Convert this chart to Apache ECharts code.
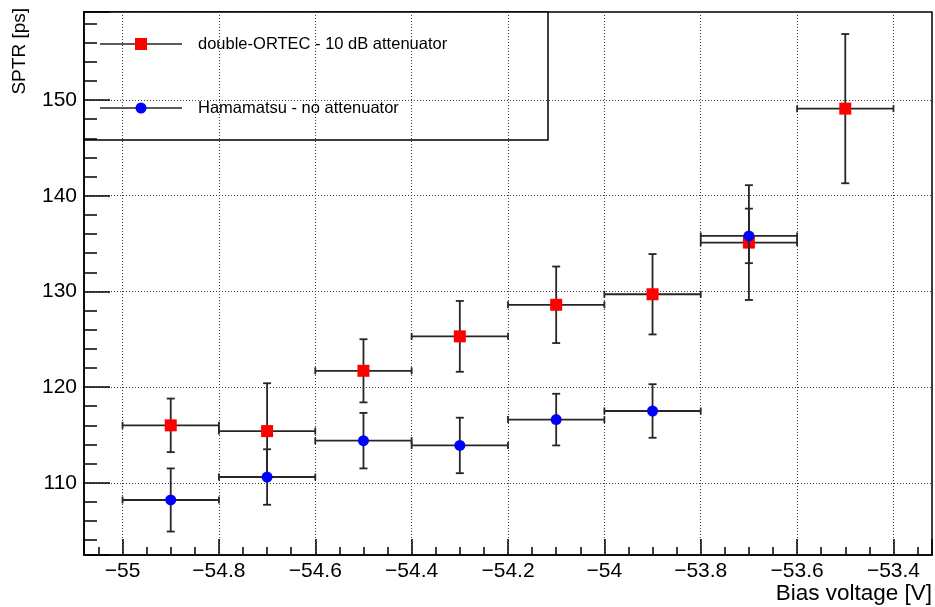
<!DOCTYPE html>
<html>
<head>
<meta charset="utf-8">
<script src="https://cdn.jsdelivr.net/npm/echarts@6/dist/echarts.min.js"></script>
<style>
html, body { margin: 0; padding: 0; background: #fff; }
#chart { width: 935px; height: 607px; }
</style>
</head>
<body>
<div id="chart"></div>
<script>
// Single-photon time resolution vs. bias voltage for two amplifier chains
const ortecVoltage = [-54.9, -54.7, -54.5, -54.3, -54.1, -53.9, -53.7, -53.5];
const ortecHalfBin = [0.1, 0.1, 0.1, 0.1, 0.1, 0.1, 0.1, 0.1];
const ortecSPTR    = [116.0, 115.4, 121.7, 125.3, 128.6, 129.7, 135.1, 149.1];
const ortecErr     = [2.8, 5.0, 3.3, 3.7, 4.0, 4.2, 6.0, 7.8];

const hamaVoltage  = [-54.9, -54.7, -54.5, -54.3, -54.1, -53.9, -53.7];
const hamaHalfBin  = [0.1, 0.1, 0.1, 0.1, 0.1, 0.1, 0.1];
const hamaSPTR     = [108.2, 110.6, 114.4, 113.9, 116.6, 117.5, 135.8];
const hamaErr      = [3.3, 2.9, 2.9, 2.9, 2.7, 2.8, 2.85];

const seriesNames  = ['double-ORTEC - 10 dB attenuator', 'Hamamatsu - no attenuator'];
const xTitle = 'Bias voltage [V]';
const yTitle = 'SPTR [ps]';
const xRange = [-55.08, -53.32];
const yRange = [102.45, 159.2];

const FONT = '"Liberation Sans", Arial, Helvetica, sans-serif';
const INK = '#000';
const BAR = '#262626';

function rows(xs, ys, exs, eys) {
  return xs.map((x, i) => [x, ys[i], exs[i], eys[i]]);
}

// Horizontal (bin width) and vertical (uncertainty) bars with end caps
function renderErrorBars(params, api) {
  const x = api.value(0), y = api.value(1), ex = api.value(2), ey = api.value(3);
  const c = api.coord([x, y]);
  const l = api.coord([x - ex, y]);
  const r = api.coord([x + ex, y]);
  const t = api.coord([x, y + ey]);
  const b = api.coord([x, y - ey]);
  const capV = 3.5, capH = 4;
  const style = { stroke: BAR, lineWidth: 1.8 };
  const seg = (x1, y1, x2, y2) => ({ type: 'line', shape: { x1, y1, x2, y2 }, style });
  return {
    type: 'group',
    children: [
      seg(l[0], c[1], r[0], c[1]),
      seg(l[0], c[1] - capV, l[0], c[1] + capV),
      seg(r[0], c[1] - capV, r[0], c[1] + capV),
      seg(c[0], t[1], c[0], b[1]),
      seg(c[0] - capH, t[1], c[0] + capH, t[1]),
      seg(c[0] - capH, b[1], c[0] + capH, b[1])
    ]
  };
}

function fmtX(v) {
  if (Math.abs(v * 5 - Math.round(v * 5)) > 1e-6) return '';
  return String(Math.round(v * 10) / 10).replace('-', '\u2212');
}
function fmtY(v) {
  if (Math.abs(v / 10 - Math.round(v / 10)) > 1e-6) return '';
  return String(Math.round(v));
}

const chart = echarts.init(document.getElementById('chart'), null, { renderer: 'canvas' });

const axisLine = { show: true, onZero: false, lineStyle: { color: INK, width: 1.5 } };
const gridDots = { show: true, lineStyle: { color: '#3a3a3a', width: 1, type: [1, 2] } };

chart.setOption({
  animation: false,
  backgroundColor: '#fff',
  textStyle: { fontFamily: FONT },
  grid: {
    left: 84, right: 1, top: 12, bottom: 52,
    show: true, borderColor: INK, borderWidth: 1.5, backgroundColor: 'transparent'
  },
  xAxis: [
    {
      type: 'value', min: xRange[0], max: xRange[1],
      splitNumber: 8, minInterval: 0.2, maxInterval: 0.2,
      position: 'bottom',
      axisLine,
      axisTick: { show: true, inside: true, length: 16, lineStyle: { color: INK, width: 1.5 } },
      splitLine: gridDots,
      axisLabel: { formatter: fmtX, color: INK, fontSize: 21, fontFamily: FONT, margin: 6,
                   showMinLabel: true, showMaxLabel: true, hideOverlap: false }
    },
    {
      type: 'value', min: xRange[0], max: xRange[1],
      splitNumber: 32, minInterval: 0.05, maxInterval: 0.05,
      position: 'bottom',
      axisLine: { show: false },
      axisTick: { show: true, inside: true, length: 8, lineStyle: { color: INK, width: 1.5 } },
      splitLine: { show: false },
      axisLabel: { show: false }
    }
  ],
  yAxis: [
    {
      type: 'value', min: yRange[0], max: yRange[1],
      splitNumber: 5, minInterval: 10, maxInterval: 10,
      position: 'left',
      axisLine,
      axisTick: { show: true, inside: true, length: 26, lineStyle: { color: INK, width: 1.5 } },
      splitLine: gridDots,
      axisLabel: { formatter: fmtY, color: INK, fontSize: 21, fontFamily: FONT, margin: 7,
                   showMinLabel: true, showMaxLabel: true, hideOverlap: false }
    },
    {
      type: 'value', min: yRange[0], max: yRange[1],
      splitNumber: 28, minInterval: 2, maxInterval: 2,
      position: 'left',
      axisLine: { show: false },
      axisTick: { show: true, inside: true, length: 13, lineStyle: { color: INK, width: 1.5 } },
      splitLine: { show: false },
      axisLabel: { show: false }
    }
  ],
  series: [
    {
      name: seriesNames[0] + ' bars', type: 'custom', renderItem: renderErrorBars,
      xAxisIndex: 0, yAxisIndex: 0, z: 3, silent: true,
      encode: { x: 0, y: 1 },
      data: rows(ortecVoltage, ortecSPTR, ortecHalfBin, ortecErr)
    },
    {
      name: seriesNames[0], type: 'scatter', symbol: 'rect', symbolSize: 12,
      xAxisIndex: 0, yAxisIndex: 0, z: 4, silent: true,
      itemStyle: { color: '#ff0000', opacity: 1 },
      data: ortecVoltage.map((x, i) => [x, ortecSPTR[i]])
    },
    {
      name: seriesNames[1] + ' bars', type: 'custom', renderItem: renderErrorBars,
      xAxisIndex: 0, yAxisIndex: 0, z: 5, silent: true,
      encode: { x: 0, y: 1 },
      data: rows(hamaVoltage, hamaSPTR, hamaHalfBin, hamaErr)
    },
    {
      name: seriesNames[1], type: 'scatter', symbol: 'circle', symbolSize: 11,
      xAxisIndex: 0, yAxisIndex: 0, z: 6, silent: true,
      itemStyle: { color: '#0000ff', opacity: 1 },
      data: hamaVoltage.map((x, i) => [x, hamaSPTR[i]])
    }
  ],
  graphic: [
    // axis titles
    {
      type: 'text', z: 50, x: 932, y: 594,
      style: { text: xTitle, font: '22.5px ' + FONT, fill: INK, align: 'right', verticalAlign: 'middle' }
    },
    {
      type: 'text', z: 50, x: 20, y: 8, rotation: Math.PI / 2,
      style: { text: yTitle, font: '19px ' + FONT, fill: INK, align: 'right', verticalAlign: 'middle' }
    },
    // legend box
    {
      type: 'group', z: 60, x: 84, y: 12,
      children: [
        { type: 'rect', shape: { x: 0, y: 0, width: 464, height: 128 },
          style: { fill: '#fff', stroke: INK, lineWidth: 1.5 } },
        { type: 'line', shape: { x1: 16, y1: 32, x2: 98, y2: 32 }, style: { stroke: BAR, lineWidth: 1.5 } },
        { type: 'rect', shape: { x: 51, y: 26, width: 12, height: 12 }, style: { fill: '#ff0000' } },
        { type: 'text', x: 114, y: 32,
          style: { text: seriesNames[0], font: '16.5px ' + FONT, fill: INK, verticalAlign: 'middle' } },
        { type: 'line', shape: { x1: 16, y1: 96, x2: 98, y2: 96 }, style: { stroke: BAR, lineWidth: 1.5 } },
        { type: 'circle', shape: { cx: 57, cy: 96, r: 5.5 }, style: { fill: '#0000ff' } },
        { type: 'text', x: 114, y: 96,
          style: { text: seriesNames[1], font: '16.5px ' + FONT, fill: INK, verticalAlign: 'middle' } }
      ]
    }
  ]
});
</script>
</body>
</html>
